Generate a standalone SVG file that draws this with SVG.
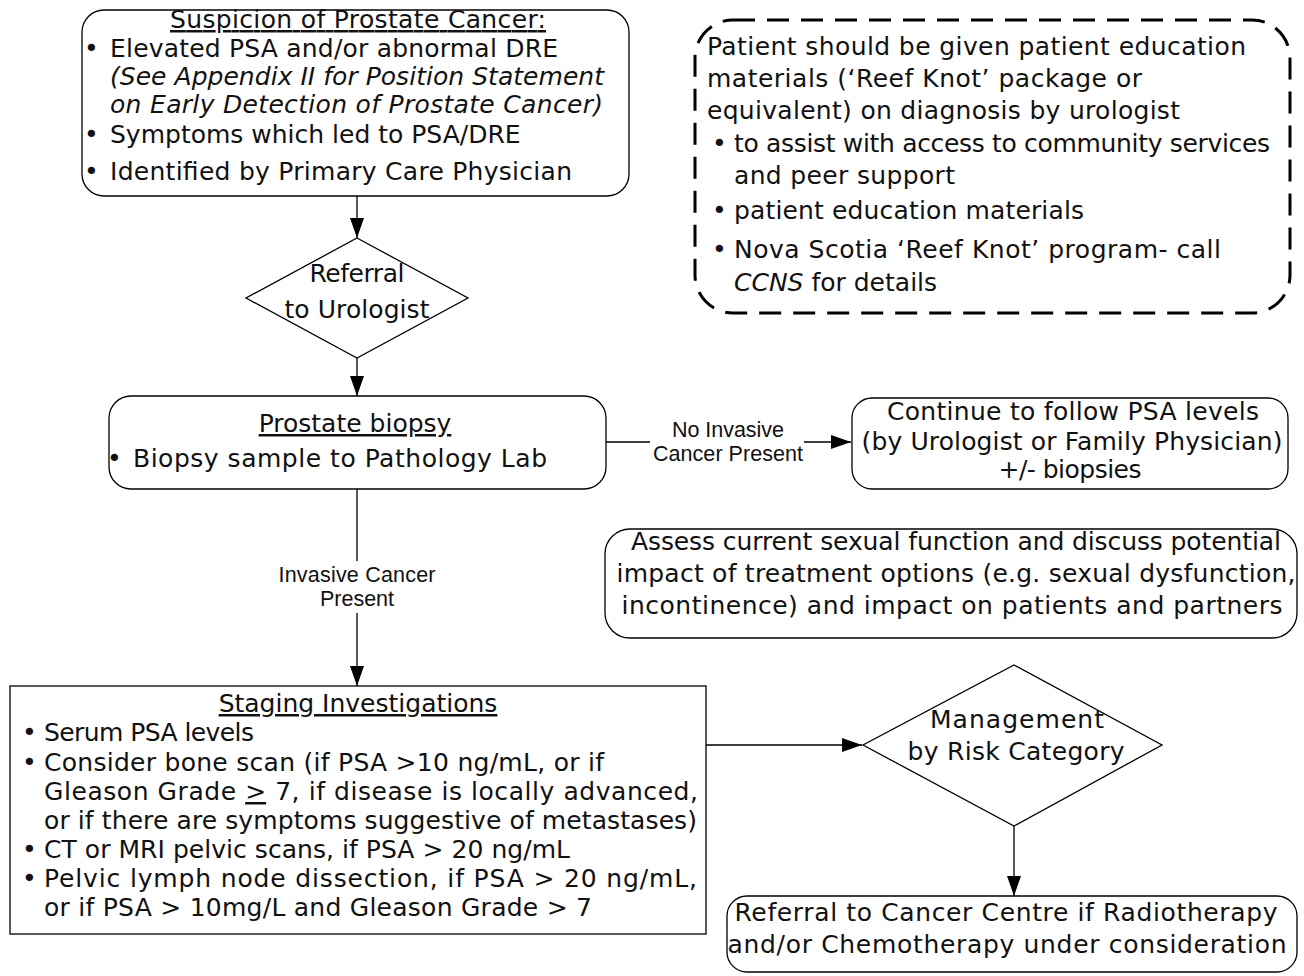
<svg xmlns="http://www.w3.org/2000/svg" width="1304" height="976" viewBox="0 0 1304 976">
<defs>
<marker id="arr" markerWidth="20" markerHeight="14" refX="20" refY="7" orient="auto" markerUnits="userSpaceOnUse" viewBox="0 0 20 14">
<path d="M0,0 L20,7 L0,14 Z" fill="#000"/>
</marker>
<style>
.box{fill:#fff;stroke:#000;stroke-width:1.3}
.dash{fill:none;stroke:#000;stroke-width:3;stroke-dasharray:22 12}
.t{font-family:"DejaVu Sans","Liberation Sans",sans-serif;font-size:25px;fill:#111}
.c{text-anchor:middle}
.it{font-style:italic}
.u{text-decoration:underline}
.lbl{font-family:"Liberation Sans",Arial,sans-serif;font-size:21.5px;fill:#111;text-anchor:middle}
.ln{fill:none;stroke:#000;stroke-width:1.3}
</style>
</defs>
<rect width="1304" height="976" fill="#fff"/>

<g id="connectors">
<path class="ln" d="M357,196 V238" marker-end="url(#arr)"/>
<path class="ln" d="M357,358 V396" marker-end="url(#arr)"/>
<path class="ln" d="M606,442 H650"/>
<path class="ln" d="M804,442 H851" marker-end="url(#arr)"/>
<path class="ln" d="M357,489 V561"/>
<path class="ln" d="M357,613 V686" marker-end="url(#arr)"/>
<path class="ln" d="M706,745 H862" marker-end="url(#arr)"/>
<path class="ln" d="M1014,826 V896" marker-end="url(#arr)"/>
<text class="lbl" x="728" y="437" textLength="112">No Invasive</text>
<text class="lbl" x="728" y="461" textLength="150">Cancer Present</text>
<text class="lbl" x="357" y="582" textLength="157">Invasive Cancer</text>
<text class="lbl" x="357" y="606">Present</text>
</g>

<g id="suspicion">
<rect class="box" x="82" y="10" width="547" height="186" rx="22"/>
<text class="t c u" x="358" y="28" textLength="376">Suspicion of Prostate Cancer:</text>
<text class="t" x="84" y="57">•</text><text class="t" x="110" y="57" textLength="448">Elevated PSA and/or abnormal DRE</text>
<text class="t it" x="110" y="85" textLength="494">(See Appendix II for Position Statement</text>
<text class="t it" x="110" y="113" textLength="493">on Early Detection of Prostate Cancer)</text>
<text class="t" x="84" y="143">•</text><text class="t" x="110" y="143">Symptoms which led to PSA/DRE</text>
<text class="t" x="84" y="180">•</text><text class="t" x="110" y="180" textLength="462">Identified by Primary Care Physician</text>
</g>

<g id="education">
<rect class="dash" x="695" y="20" width="595" height="293" rx="38"/>
<text class="t" x="707" y="55" textLength="539">Patient should be given patient education</text>
<text class="t" x="707" y="87" textLength="435">materials (‘Reef Knot’ package or</text>
<text class="t" x="707" y="119" textLength="473">equivalent) on diagnosis by urologist</text>
<text class="t" x="712" y="152">•</text><text class="t" x="734" y="152" textLength="536">to assist with access to community services</text>
<text class="t" x="734" y="184" textLength="221">and peer support</text>
<text class="t" x="712" y="219">•</text><text class="t" x="734" y="219" textLength="350">patient education materials</text>
<text class="t" x="712" y="258">•</text><text class="t" x="734" y="258" textLength="487">Nova Scotia ‘Reef Knot’ program- call</text>
<text class="t" x="734" y="291"><tspan class="it">CCNS</tspan> for details</text>
</g>

<g id="referral">
<polygon class="box" points="357,238 468,298 357,358 246,298"/>
<text class="t c" x="357" y="282" textLength="95">Referral</text>
<text class="t c" x="357" y="318" textLength="145">to Urologist</text>
</g>

<g id="biopsy">
<rect class="box" x="109" y="396" width="497" height="93" rx="22"/>
<text class="t c u" x="355" y="432">Prostate biopsy</text>
<text class="t" x="107" y="467">•</text><text class="t" x="133" y="467" textLength="414">Biopsy sample to Pathology Lab</text>
</g>

<g id="continue">
<rect class="box" x="852" y="398" width="436" height="91" rx="20"/>
<text class="t c" x="1073" y="420" textLength="372">Continue to follow PSA levels</text>
<text class="t c" x="1072" y="450" textLength="421">(by Urologist or Family Physician)</text>
<text class="t c" x="1070" y="478" textLength="143">+/- biopsies</text>
</g>

<g id="assess">
<rect class="box" x="605" y="529" width="692" height="109" rx="25"/>
<text class="t c" x="956" y="550" textLength="650">Assess current sexual function and discuss potential</text>
<text class="t c" x="956" y="582" textLength="679">impact of treatment options (e.g. sexual dysfunction,</text>
<text class="t c" x="952" y="614" textLength="661">incontinence) and impact on patients and partners</text>
</g>

<g id="staging">
<rect class="box" x="10" y="686" width="696" height="248"/>
<text class="t c u" x="358" y="712">Staging Investigations</text>
<text class="t" x="22" y="741">•</text><text class="t" x="44" y="741" textLength="210">Serum PSA levels</text>
<text class="t" x="22" y="771">•</text><text class="t" x="44" y="771" textLength="560">Consider bone scan (if PSA &gt;10 ng/mL, or if</text>
<text class="t" x="44" y="800" textLength="654">Gleason Grade <tspan class="u">&gt;</tspan> 7, if disease is locally advanced,</text>
<text class="t" x="44" y="829" textLength="653">or if there are symptoms suggestive of metastases)</text>
<text class="t" x="22" y="858">•</text><text class="t" x="44" y="858" textLength="526">CT or MRI pelvic scans, if PSA &gt; 20 ng/mL</text>
<text class="t" x="22" y="887">•</text><text class="t" x="44" y="887" textLength="653">Pelvic lymph node dissection, if PSA &gt; 20 ng/mL,</text>
<text class="t" x="44" y="916" textLength="548">or if PSA &gt; 10mg/L and Gleason Grade &gt; 7</text>
</g>

<g id="management">
<polygon class="box" points="1014,665 1162,745 1014,826 863,745"/>
<text class="t c" x="1017" y="728" textLength="174">Management</text>
<text class="t c" x="1016" y="760" textLength="217">by Risk Category</text>
</g>

<g id="cancer-centre">
<rect class="box" x="727" y="896" width="570" height="76" rx="20"/>
<text class="t c" x="1006" y="921" textLength="543">Referral to Cancer Centre if Radiotherapy</text>
<text class="t c" x="1007" y="953" textLength="559">and/or Chemotherapy under consideration</text>
</g>
</svg>
